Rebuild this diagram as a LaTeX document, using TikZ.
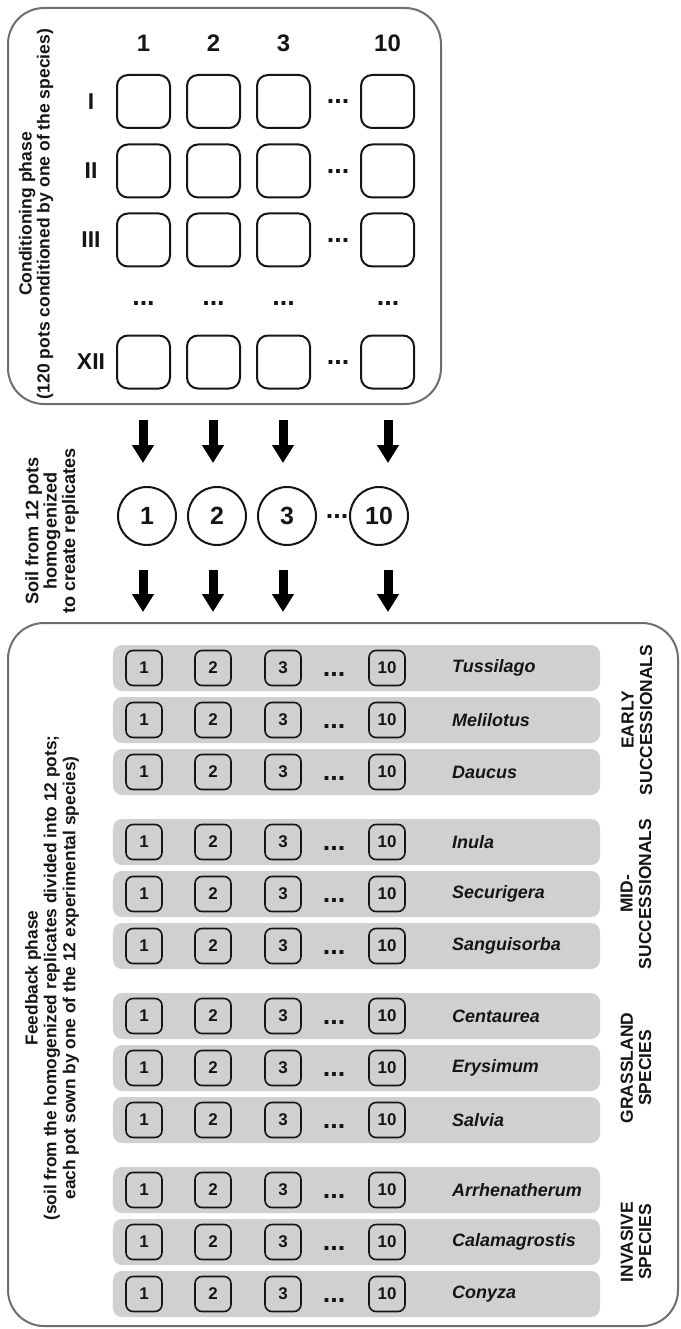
\documentclass[tikz,border=0pt]{standalone}
\usepackage{fontspec}
\setmainfont{Liberation Sans}
\usetikzlibrary{arrows.meta}
\definecolor{framegray}{HTML}{6E6E6E}
\definecolor{bandgray}{HTML}{D0D0D0}
\definecolor{ink}{HTML}{151515}
\begin{document}
\begin{tikzpicture}[x=1bp,y=-1bp,
  frame/.style={draw=framegray, line width=2bp, rounded corners=36bp},
  bigpot/.style={draw=ink, line width=2bp, rounded corners=11bp, minimum width=53bp, minimum height=53bp, inner sep=0pt},
  mixpot/.style={draw=ink, line width=2bp, circle, minimum size=58bp, inner sep=0pt, text=ink, font=\fontsize{25}{25}\selectfont\bfseries},
  fatarrow/.style={draw=black, line width=9bp, -{Triangle[width=21bp,length=18bp]}},
  band/.style={fill=bandgray, rounded corners=9bp, minimum width=487bp, minimum height=46bp, inner sep=0pt},
  smallpot/.style={draw=ink, line width=1.6bp, rounded corners=7bp, minimum width=36bp, minimum height=35bp, inner sep=0pt, text=ink, font=\fontsize{17}{17}\selectfont\bfseries},
  dots/.style={inner sep=0pt, text=ink, font=\fontsize{27}{27}\selectfont\bfseries},
  colhead/.style={text=ink, font=\fontsize{24}{24}\selectfont\bfseries},
  rowhead/.style={text=ink, font=\fontsize{23}{23}\selectfont\bfseries},
  species/.style={anchor=west, inner sep=0pt, text=ink, font=\fontsize{18}{18}\selectfont\bfseries\itshape},
  grouplab/.style={rotate=90, align=center, text=ink, font=\fontsize{17.5}{18.5}\selectfont\bfseries},
  sidelab/.style={rotate=90, align=center, text=ink, font=\fontsize{17.6}{18}\selectfont\bfseries}
]
\useasboundingbox (0,0) rectangle (680,1329);

% ---------- conditioning phase ----------
\draw[frame] (8,8) rectangle (441,404);
\node[sidelab] (condlab) at (36,214) {Conditioning phase\\(120 pots conditioned by one of the species)};

\foreach \c/\x in {1/143.5,2/213.5,3/283.5,10/387.5}{
  \node[colhead] (h\c) at (\x,43) {\c};
}
\foreach \r/\lab/\y in {1/I/101.5,2/II/171,3/III/240,12/XII/362}{
  \node[rowhead] (r\r) at (91,\y) {\lab};
  \foreach \c/\x in {1/143.5,2/213.5,3/283.5,10/387.5}{
    \node[bigpot] (s\r-\c) at (\x,\y) {};
  }
  \node[dots] (d\r) at (338,\y) {...};
}
\foreach \c/\x in {1/143.5,2/213.5,3/283.5,10/388}{
  \node[dots] (vd\c) at (\x,303) {...};
}

% ---------- homogenisation ----------
\node[sidelab, font=\fontsize{18.2}{18.5}\selectfont\bfseries] (soillab) at (52,531) {Soil from 12 pots\\homogenized\\to create replicates};

\foreach \c/\x in {1/147,2/217,3/287,10/379}{
  \node[mixpot] (m\c) at (\x,516) {\c};
}
\node[dots] (mdots) at (337,516) {...};

\foreach \c/\x in {1/143,2/213,3/283,10/388}{
  \coordinate (a\c s) at (\x,420);
  \coordinate (a\c e) at (\x,463);
  \draw[fatarrow] (a\c s) -- (a\c e);
  \coordinate (b\c s) at (\x,570);
  \coordinate (b\c e) at (\x,612);
  \draw[fatarrow] (b\c s) -- (b\c e);
}

% ---------- feedback phase ----------
\draw[frame] (8,623) rectangle (678,1326);
\node[sidelab, font=\fontsize{17.4}{19}\selectfont\bfseries] (fblab) at (52,978)
  {Feedback phase\\(soil from the homogenized replicates divided into 12 pots;\\each pot sown by one of the 12 experimental species)};

\foreach \n/\y/\sp in {1/668/Tussilago,2/720/Melilotus,3/772/Daucus,
                       4/842/Inula,5/894/Securigera,6/946/Sanguisorba,
                       7/1016/Centaurea,8/1068/Erysimum,9/1120/Salvia,
                       10/1190/Arrhenatherum,11/1242/Calamagrostis,12/1294/Conyza}{
  \node[band] (band\n) at (356.5,\y) {};
  \foreach \c/\x in {1/144,2/213,3/283,10/387}{
    \node[smallpot] (p\n-\c) at (\x,\y) {\c};
  }
  \node[dots] (pd\n) at (334,\y+6) {...};
  \node[species] (sp\n) at (452,\y) {\sp};
}

\node[grouplab] (g1) at (637,720) {EARLY\\SUCCESSIONALS};
\node[grouplab] (g2) at (636,894) {MID-\\SUCCESSIONALS};
\node[grouplab] (g3) at (636,1068) {GRASSLAND\\SPECIES};
\node[grouplab] (g4) at (636,1242) {INVASIVE\\SPECIES};
\end{tikzpicture}
\end{document}
